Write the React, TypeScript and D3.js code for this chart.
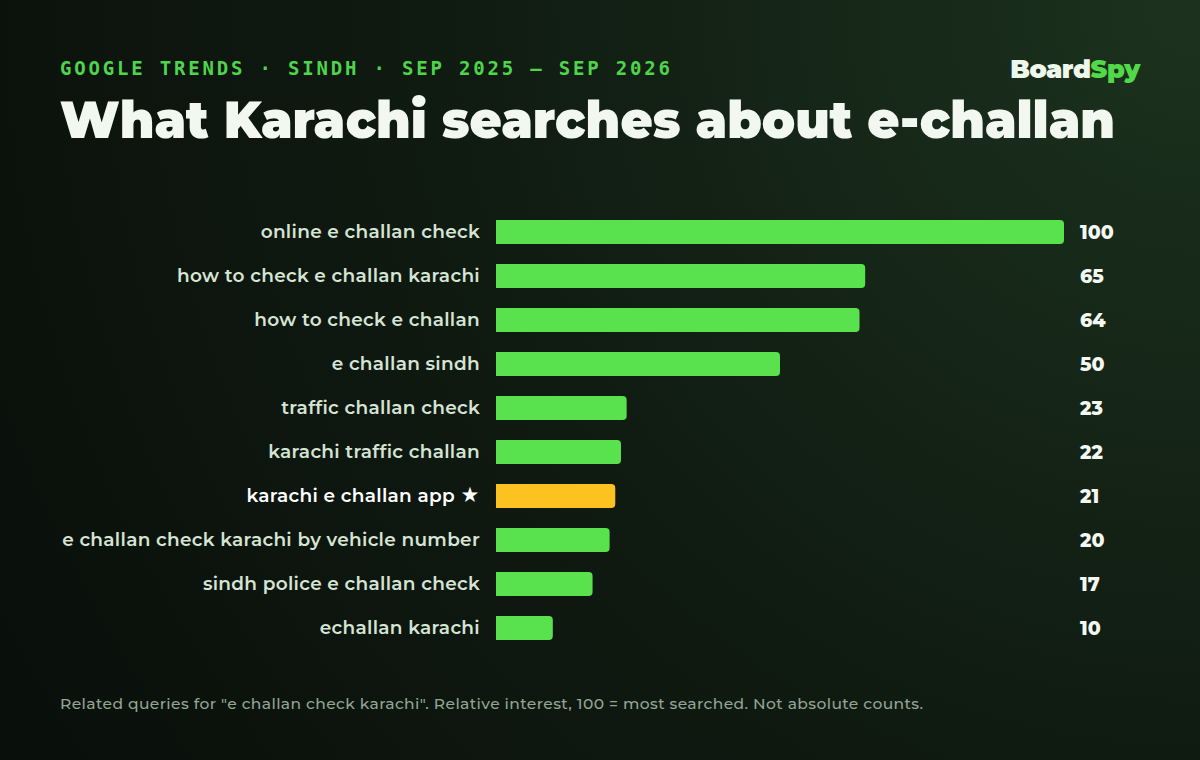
import React from "react";
import * as d3 from "d3";

const categories = [
  "online e challan check",
  "how to check e challan karachi",
  "how to check e challan",
  "e challan sindh",
  "traffic challan check",
  "karachi traffic challan",
  "karachi e challan app ★",
  "e challan check karachi by vehicle number",
  "sindh police e challan check",
  "echallan karachi",
];
const values = [100, 65, 64, 50, 23, 22, 21, 20, 17, 10];
const highlighted = [false, false, false, false, false, false, true, false, false, false];

const W = 1200;
const H = 760;

function barPath(x0: number, y: number, w: number, h: number, r: number) {
  const rr = Math.min(r, w / 2, h / 2);
  return `M${x0},${y}H${x0 + w - rr}Q${x0 + w},${y} ${x0 + w},${y + rr}V${y + h - rr}Q${x0 + w},${y + h} ${x0 + w - rr},${y + h}H${x0}Z`;
}

export default function App() {
  const x = d3.scaleLinear().domain([0, 100]).range([496, 1064]);
  const y = d3.scaleBand().domain(categories).range([210, 650]).paddingInner(0.4545).paddingOuter(0.227);
  const bh = 24;
  const sans = "Montserrat, Inter, 'Noto Sans', sans-serif";
  return (
    <svg width={W} height={H} style={{ position: "absolute", left: 0, top: 0 }}>
      <defs>
        <radialGradient id="bg" cx="1" cy="0" r="1.3" gradientUnits="objectBoundingBox" gradientTransform="translate(1,0) scale(1,1.58) translate(-1,0)">
          <stop offset="0" stopColor="#1c321e" />
          <stop offset="0.5" stopColor="#0f1a11" />
          <stop offset="1" stopColor="#080c09" />
        </radialGradient>
      </defs>
      <rect x={0} y={0} width={W} height={H} fill="url(#bg)" />
      <text x={60} y={75} fill="#4fd44c" fontFamily="'DejaVu Sans Mono', 'Liberation Mono', monospace" fontWeight={700} fontSize={19} textLength={610} lengthAdjust="spacing">
        GOOGLE TRENDS · SINDH · SEP 2025 – SEP 2026
      </text>
      <text x={1140} y={78} textAnchor="end" fontFamily={sans} fontWeight={900} fontSize={25.5} letterSpacing={-0.4}>
        <tspan fill="#eef7ec">Board</tspan>
        <tspan fill="#52d94a">Spy</tspan>
      </text>
      <text x={60} y={138} fill="#f2f8f0" fontFamily={sans} fontWeight={900} fontSize={52} textLength={1055} lengthAdjust="spacingAndGlyphs">
        What Karachi searches about e-challan
      </text>
      {categories.map((c, i) => {
        const yy = (y(c) as number) + y.bandwidth() / 2;
        const w = x(values[i]) - x(0);
        return (
          <g key={c}>
            <text x={480} y={yy} dy="0.35em" textAnchor="end" fill={highlighted[i] ? "#ffffff" : "#d6e4d4"} fontFamily={sans} fontWeight={600} fontSize={18.5} letterSpacing={0.3}>
              {c}
            </text>
            <path d={barPath(x(0), yy - bh / 2, w, bh, 4)} fill={highlighted[i] ? "#fcc21f" : "#5ae24e"} />
            <text x={1080} y={yy} dy="0.35em" fill="#f4f8f2" fontFamily={sans} fontWeight={800} fontSize={19}>
              {values[i]}
            </text>
          </g>
        );
      })}
      <text x={60} y={709} fill="#93a593" fontFamily={sans} fontWeight={500} fontSize={15.5} textLength={863} lengthAdjust="spacing">
        Related queries for "e challan check karachi". Relative interest, 100 = most searched. Not absolute counts.
      </text>
    </svg>
  );
}
